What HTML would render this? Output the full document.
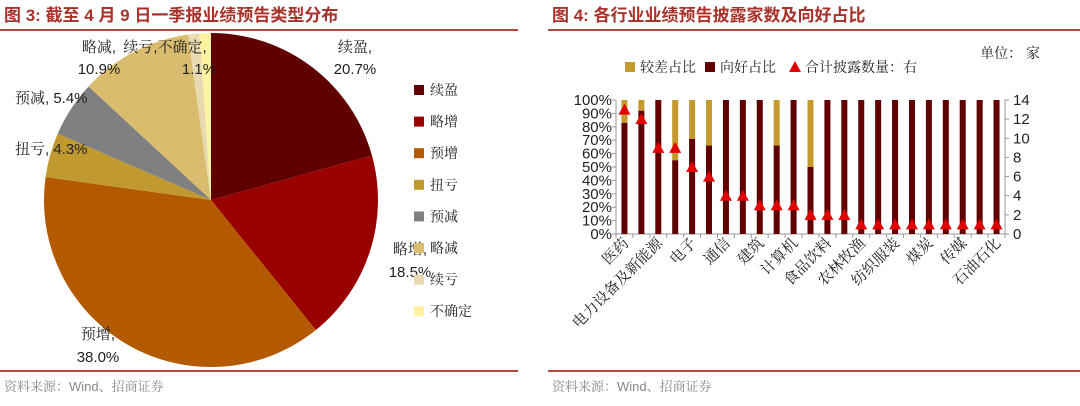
<!DOCTYPE html>
<html><head><meta charset="utf-8"><style>
body{margin:0;background:#fff;width:1080px;height:401px;overflow:hidden;font-family:"Liberation Sans","Noto Serif CJK SC",serif}
svg text{font-family:"Liberation Sans","Noto Serif CJK SC",serif}
svg text.tt{font-family:"Liberation Sans","Noto Sans CJK SC",sans-serif}
</style></head><body>
<svg id="s" width="1080" height="401" xmlns="http://www.w3.org/2000/svg">
<text class="tt" x="4" y="21" font-size="17" font-weight="bold" fill="#a8312a">图 3:  截至 4 月 9 日一季报业绩预告类型分布</text>
<line x1="0" y1="30" x2="518" y2="30" stroke="#b5463a" stroke-width="2"/>
<line x1="0" y1="371" x2="518" y2="371" stroke="#b5463a" stroke-width="2"/>
<text x="4" y="391" font-size="13" fill="#888">资料来源：Wind、招商证券</text>
<text class="tt" x="552" y="21" font-size="17" font-weight="bold" fill="#a8312a">图 4:  各行业业绩预告披露家数及向好占比</text>
<line x1="548" y1="30" x2="1080" y2="30" stroke="#b5463a" stroke-width="2"/>
<line x1="548" y1="371" x2="1080" y2="371" stroke="#b5463a" stroke-width="2"/>
<text x="552" y="391" font-size="13" fill="#888">资料来源：Wind、招商证券</text>
<g id="pie"></g>
<g id="plegend"></g>
<g id="bars"></g>
</svg>
<script>
const pieCats=["续盈","略增","预增","扭亏","预减","略减","续亏","不确定"];
const pieVals=[20.7,18.5,38.0,4.3,5.4,10.9,1.1,1.1];
const pieColors=["#600000","#990000","#b35a00","#c09a2e","#808080","#d9bc6d","#e8d9b0","#fff2a0"];
const barCats=["医药","c1","电力设备及新能源","c3","电子","c5","通信","c7","建筑","c9","计算机","c11","食品饮料","c13","农林牧渔","c15","纺织服装","c17","煤炭","c19","传媒","c21","石油石化"];
const goodShare=[0.83,0.92,1,0.55,0.71,0.66,1,1,1,0.66,1,0.5,1,1,1,1,1,1,1,1,1,1,1];
const counts=[13,12,9,9,7,6,4,4,3,3,3,2,2,2,1,1,1,1,1,1,1,1,1];
const pctTicks=["0%","10%","20%","30%","40%","50%","60%","70%","80%","90%","100%"];
const cntTicks=[0,2,4,6,8,10,12,14];
const NS="http://www.w3.org/2000/svg";
function mk(p,tag,a){const e=document.createElementNS(NS,tag);for(const k in a)e.setAttribute(k,a[k]);p.appendChild(e);return e;}
const pie=document.getElementById('pie');const cx=211,cy=200,r=167;
const tot=pieVals.reduce((a,b)=>a+b,0);let ang=0;
pieVals.forEach((v,i)=>{const a0=ang,a1=ang+v/tot*2*Math.PI;ang=a1;
 const x0=cx+r*Math.sin(a0),y0=cy-r*Math.cos(a0),x1=cx+r*Math.sin(a1),y1=cy-r*Math.cos(a1);
 const p=mk(pie,'path',{d:`M${cx},${cy}L${x0},${y0}A${r},${r} 0 ${a1-a0>Math.PI?1:0} 1 ${x1},${y1}Z`,fill:pieColors[i]});
 
 
});
const lbls=[[355,52,"续盈,","middle"],[355,74,pieVals[0].toFixed(1)+"%","middle"],[410,254,"略增,","middle"],[410,277,pieVals[1].toFixed(1)+"%","middle"],
[98,339,"预增,","middle"],[98,362,pieVals[2].toFixed(1)+"%","middle"],[15,154,"扭亏, "+pieVals[3]+"%","start"],[15,103,"预减, "+pieVals[4]+"%","start"],
[99,52,"略减,","middle"],[99,74,pieVals[5]+"%","middle"],[165,52,"续亏,不确定,","middle"],[199,74,pieVals[7]+"%","middle"]];
lbls.forEach(l=>{const t=mk(pie,'text',{x:l[0],y:l[1],'font-size':15,'text-anchor':l[3],fill:'#222'});t.textContent=l[2];
 
 });
const pl=document.getElementById('plegend');
pieCats.forEach((c,i)=>{const y=91+i*31.6;
 const sq=mk(pl,'rect',{x:414,y:y-6,width:10,height:10,fill:pieColors[i]});
 
 
 const t=mk(pl,'text',{x:430,y:y+4,'font-size':14,fill:'#222'});t.textContent=c;
 
 });
const g=document.getElementById('bars');
const X0=616,X1=1005,Y0=234,Y1=100,n=barCats.length,step=(X1-X0)/n;
const xc=i=>X0+step*(i+0.5), yP=v=>Y0-(Y0-Y1)*v, yC=v=>Y0-(Y0-Y1)*v/14;
mk(g,'line',{x1:X0,y1:Y1,x2:X0,y2:Y0,stroke:'#999'});mk(g,'line',{x1:X1,y1:Y1,x2:X1,y2:Y0,stroke:'#999'});mk(g,'line',{x1:X0,y1:Y0,x2:X1,y2:Y0,stroke:'#999'});
pctTicks.forEach((t,i)=>{const y=yP(i/10);mk(g,'line',{x1:X0-4,y1:y,x2:X0,y2:y,stroke:'#999'});
 const e=mk(g,'text',{x:X0-4,y:y+5,'font-size':15,'text-anchor':'end',fill:'#222'});e.textContent=t;
 
 });
cntTicks.forEach(t=>{const y=yC(t);mk(g,'line',{x1:X1,y1:y,x2:X1+4,y2:y,stroke:'#999'});
 const e=mk(g,'text',{x:X1+8,y:y+5,'font-size':15,fill:'#222'});e.textContent=t;
 
 });
for(let i=0;i<=n;i++)mk(g,'line',{x1:X0+step*i,y1:Y0,x2:X0+step*i,y2:Y0+4,stroke:'#999'});
barCats.forEach((c,i)=>{const x=xc(i)-3;
 const b1=mk(g,'rect',{x:x,y:yP(1),width:6,height:yP(goodShare[i])-yP(1),fill:'#c49a2e'});
 
 
 const b2=mk(g,'rect',{x:x,y:yP(goodShare[i]),width:6,height:Y0-yP(goodShare[i]),fill:'#600000'});
 
 
 const ty=yC(counts[i]);
 const tr=mk(g,'polygon',{points:`${xc(i)},${ty-6} ${xc(i)-6},${ty+5} ${xc(i)+6},${ty+5}`,fill:'#e00000'});
 
 
 if(i%2===0){const t=mk(g,'text',{x:0,y:0,'font-size':15,'text-anchor':'end',fill:'#222',transform:`translate(${xc(i)+5},${Y0+10}) rotate(-45)`});t.textContent=c;
  
  }
});
const lg=[[625,'rect','#c49a2e','较差占比'],[705,'rect','#600000','向好占比'],[790,'tri','#e00000','合计披露数量：右']];
lg.forEach(l=>{if(l[1]==='rect')mk(g,'rect',{x:l[0],y:62,width:10,height:10,fill:l[2]});else mk(g,'polygon',{points:`${l[0]+5},61 ${l[0]-1},72 ${l[0]+11},72`,fill:l[2]});
 const t=mk(g,'text',{x:l[0]+15,y:72,'font-size':14,fill:'#222'});t.textContent=l[3];
 
 });
const u=mk(g,'text',{x:1040,y:58,'font-size':14,'text-anchor':'end',fill:'#222'});u.textContent='单位：  家';


</script>
</body></html>
